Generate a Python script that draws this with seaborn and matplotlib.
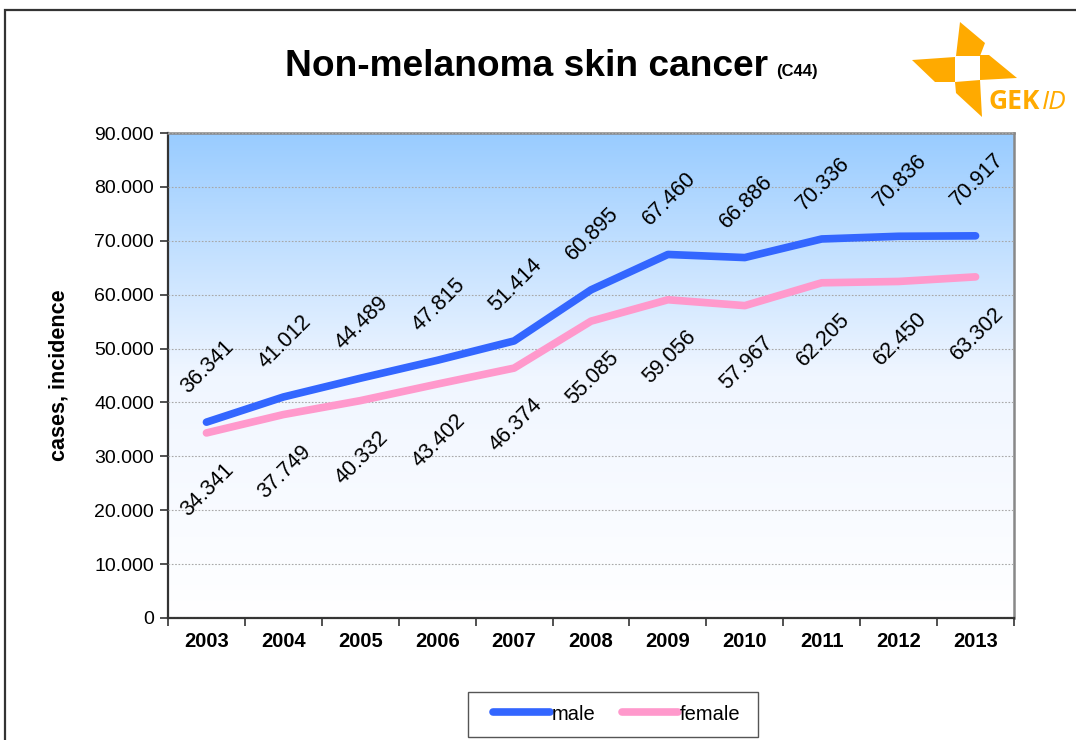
import matplotlib
matplotlib.use("Agg")
import matplotlib.pyplot as plt
import numpy as np
import pandas as pd
import seaborn as sns
from matplotlib.colors import LinearSegmentedColormap
from matplotlib.lines import Line2D
from matplotlib.patches import Polygon, Rectangle
from matplotlib.ticker import FuncFormatter, FixedLocator

years = ["2003", "2004", "2005", "2006", "2007", "2008", "2009", "2010", "2011", "2012", "2013"]
male = [36341, 41012, 44489, 47815, 51414, 60895, 67460, 66886, 70336, 70836, 70917]
female = [34341, 37749, 40332, 43402, 46374, 55085, 59056, 57967, 62205, 62450, 63302]
series_names = ["male", "female"]
colors = {"male": "#3366FF", "female": "#FF99CC"}
y_ticks = [0, 10000, 20000, 30000, 40000, 50000, 60000, 70000, 80000, 90000]

df = pd.DataFrame({
    "pos": list(range(len(years))) * 2,
    "cases": male + female,
    "sex": ["male"] * len(years) + ["female"] * len(years),
})

sns.set_theme(style="white")
plt.rcParams["font.family"] = ["Liberation Sans", "DejaVu Sans"]
for k in ["text.color", "axes.labelcolor", "xtick.color", "ytick.color"]:
    plt.rcParams[k] = "black"

W, H = 1076, 740
fig = plt.figure(figsize=(W / 100, H / 100), dpi=100)
ax = fig.add_axes([168 / W, 1 - 618 / H, (1014 - 168) / W, (618 - 133) / H])


def px(x, y):
    return (x / W, 1 - y / H)


# gradient background of the plot area
cmap = LinearSegmentedColormap.from_list("bg", ["#FFFFFF", "#F0F6FF", "#99CCFF"])
grad = np.linspace(0, 1, 256)[:, None]
ax.imshow(grad, extent=[-0.5, len(years) - 0.5, 0, 90000], aspect="auto",
          origin="lower", cmap=cmap, zorder=0)

sns.lineplot(data=df, x="pos", y="cases", hue="sex", hue_order=series_names,
             palette=colors, linewidth=5.5, ax=ax, zorder=3, legend=False)
for line in ax.get_lines():
    line.set_solid_capstyle("round")
    line.set_solid_joinstyle("round")

fmt = lambda v: "0" if v == 0 else f"{int(v):,}".replace(",", ".")

for i, v in enumerate(male):
    ax.annotate(fmt(v), (i, v), xytext=(1, 40), textcoords="offset points",
                ha="center", va="center", rotation=45, fontsize=15.5, zorder=4)
for i, v in enumerate(female):
    ax.annotate(fmt(v), (i, v), xytext=(1, -41), textcoords="offset points",
                ha="center", va="center", rotation=45, fontsize=15.5, zorder=4)

ax.set_xlim(-0.5, len(years) - 0.5)
ax.set_ylim(0, 90000)
ax.set_yticks(y_ticks)
ax.yaxis.set_major_formatter(FuncFormatter(lambda v, p: fmt(v)))
ax.grid(axis="y", color="#A8A8A8", linestyle=(0, (1.5, 1.5)), linewidth=0.8)
ax.set_axisbelow(False)

ax.xaxis.set_major_locator(FixedLocator(np.arange(-0.5, len(years), 1.0)))
ax.xaxis.set_minor_locator(FixedLocator(np.arange(len(years))))
ax.set_xticklabels([], minor=False)
ax.set_xticklabels(years, minor=True, fontweight="bold", fontsize=14.5)
ax.tick_params(axis="x", which="major", direction="out", length=6, width=1.2,
               color="#333333", bottom=True)
ax.tick_params(axis="x", which="minor", length=0, pad=10, bottom=True)
ax.tick_params(axis="y", direction="out", length=6, width=1.2, color="#333333",
               left=True, labelsize=14, pad=4)

for s in ["left", "bottom"]:
    ax.spines[s].set_color("#333333")
    ax.spines[s].set_linewidth(1.6)
for s in ["top", "right"]:
    ax.spines[s].set_color("#888888")
    ax.spines[s].set_linewidth(1.8)

ax.set_xlabel("")
ax.set_ylabel("cases, incidence", fontweight="bold", fontsize=15.5, labelpad=18)

# title
fig.text(*px(768, 76), "Non-melanoma skin cancer", ha="right", va="baseline",
         fontsize=26.7, fontweight="bold")
fig.text(*px(776, 76), "(C44)", ha="left", va="baseline",
         fontsize=12, fontweight="bold")

# legend (frame drawn separately to match the box size)
handles = [Line2D([], [], color=colors[n], linewidth=5.5, solid_capstyle="round")
           for n in series_names]
fig.legend(handles, series_names, loc="center", bbox_to_anchor=px(617, 714),
           ncol=2, fontsize=14.5, frameon=False,
           handlelength=2.8, handletextpad=0.1, columnspacing=1.3,
           borderpad=0.5, borderaxespad=0)
fig.add_artist(Rectangle(px(468, 737), 290 / W, 45 / H, fill=False,
                         edgecolor="#555555", linewidth=1.0,
                         transform=fig.transFigure))

# outer frame
fig.add_artist(Rectangle(px(5, 800), 2000 / W, (800 - 10) / H, fill=False,
                         edgecolor="#333333", linewidth=1.6,
                         transform=fig.transFigure))

# GEKID logo
orange = "#FFAA00"
blades = [
    [(960, 22), (985, 43), (980, 56), (956, 56)],
    [(912, 60), (955, 57), (955, 82), (935, 82)],
    [(980, 55), (989, 55), (1017, 78), (980, 80)],
    [(955, 82), (980, 80), (982, 117), (956, 93)],
]
for b in blades:
    fig.add_artist(Polygon([px(x, y) for x, y in b], closed=True,
                           facecolor=orange, edgecolor="none",
                           transform=fig.transFigure))
fig.text(*px(989, 109), "GEK", ha="left", va="baseline", fontsize=19,
         fontweight="bold", color=orange, family=["Open Sans", "DejaVu Sans"])
fig.text(*px(1042, 109), "ID", ha="left", va="baseline", fontsize=19,
         fontstyle="italic", color=orange, family=["Open Sans", "DejaVu Sans"])

fig.savefig("out.png", dpi=100)
